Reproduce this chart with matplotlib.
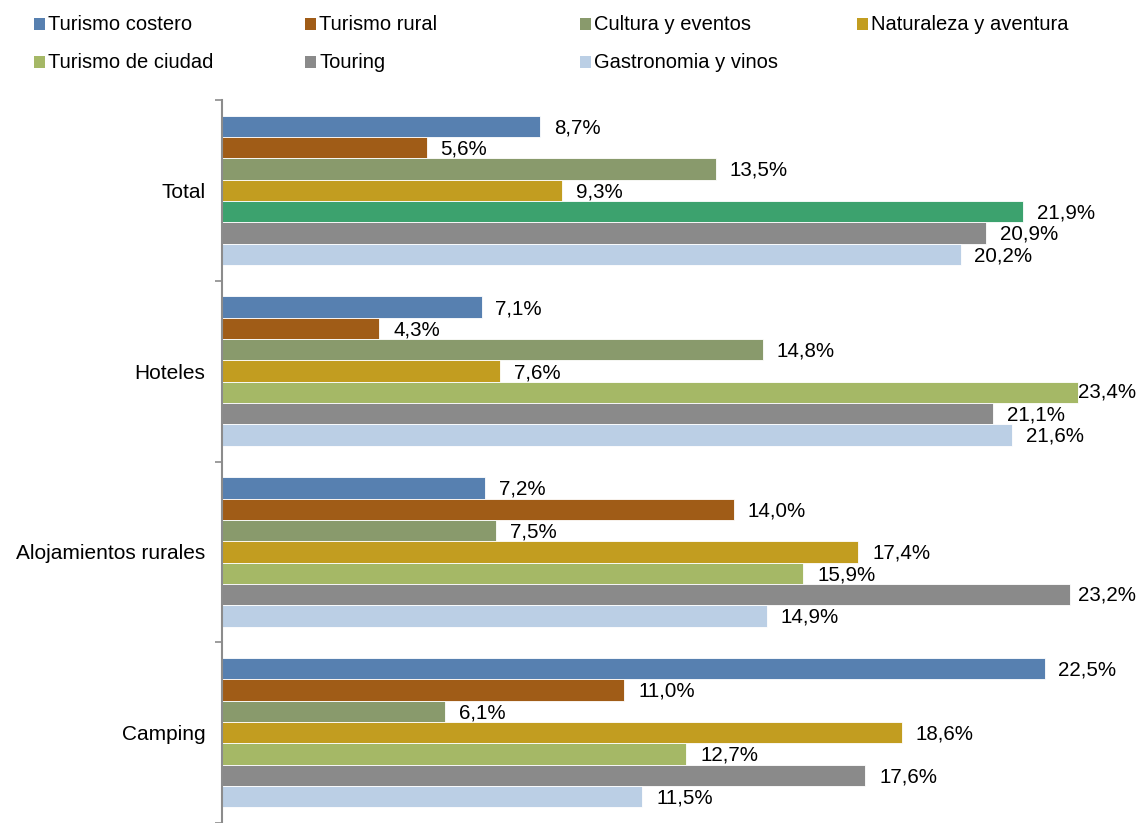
import numpy as np
import matplotlib.pyplot as plt
import matplotlib.transforms as mtransforms
from matplotlib.patches import Rectangle

plt.rcParams['font.family'] = ['Liberation Sans', 'DejaVu Sans']

categories = ["Total", "Hoteles", "Alojamientos rurales", "Camping"]
series = ["Turismo costero", "Turismo rural", "Cultura y eventos", "Naturaleza y aventura",
          "Turismo de ciudad", "Touring", "Gastronomia y vinos"]

costero = [8.7, 7.1, 7.2, 22.5]
rural = [5.6, 4.3, 14.0, 11.0]
cultura = [13.5, 14.8, 7.5, 6.1]
naturaleza = [9.3, 7.6, 17.4, 18.6]
ciudad = [21.9, 23.4, 15.9, 12.7]
touring = [20.9, 21.1, 23.2, 17.6]
gastronomia = [20.2, 21.6, 14.9, 11.5]

colors = ["#5780B0", "#A05C17", "#899A6C", "#C29D20", "#A5B866", "#8A8A8A", "#BBCFE5"]
total_ciudad_color = "#3CA26E"

values = [costero, rural, cultura, naturaleza, ciudad, touring, gastronomia]

W, H = 1136, 823
fig = plt.figure(figsize=(W / 100, H / 100), dpi=100)
ax = fig.add_axes([222 / W, 0.0, 1 - 222 / W, 1 - 100 / H])
edge_tr = mtransforms.blended_transform_factory(ax.transAxes, ax.transData)

n = len(series)
bar_h = 0.118
for j, (name, vals) in enumerate(zip(series, values)):
    ypos = np.arange(len(categories)) + (j - (n - 1) / 2) * bar_h
    cols = [colors[j]] * len(categories)
    if name == "Turismo de ciudad":
        cols[0] = total_ciudad_color
    bars = ax.barh(ypos, vals, height=bar_h, color=cols, edgecolor='white', linewidth=0.6)
    for b, v in zip(bars, vals):
        txt = f"{v:.1f}%".replace(".", ",")
        yc = b.get_y() + b.get_height() / 2
        if v > 23:
            # too close to the right edge: pin the label against it
            ax.text(1.0, yc, txt, transform=edge_tr, va='center', ha='right',
                    fontsize=14.8, clip_on=False)
        else:
            ax.annotate(txt, (b.get_width(), yc), xytext=(10, -1),
                        textcoords='offset points', va='center', ha='left', fontsize=14.8)

ax.set_xlim(0, 25)
ax.set_ylim(len(categories) - 0.5, -0.5)
ax.set_yticks(np.arange(len(categories)))
ax.set_yticklabels(categories, fontsize=15)
ax.set_yticks(np.arange(len(categories) + 1) - 0.5, minor=True)
ax.tick_params(axis='y', which='major', length=0, pad=12)
ax.tick_params(axis='y', which='minor', length=5, color='#8C8C8C', width=1.2)
ax.set_xticks([])
for s in ['top', 'right', 'bottom']:
    ax.spines[s].set_visible(False)
ax.spines['left'].set_color('#8C8C8C')
ax.spines['left'].set_linewidth(1.5)

# legend laid out row by row, four entries per row
col_x = [39, 310, 585, 862]
row_y = [24, 62]
for i, (name, c) in enumerate(zip(series, colors)):
    x0 = col_x[i % 4]
    y0 = row_y[i // 4]
    fig.patches.append(Rectangle(((x0 - 5.5) / W, 1 - (y0 + 5.5) / H), 11 / W, 11 / H,
                                 facecolor=c, edgecolor='none', transform=fig.transFigure))
    fig.text((x0 + 9) / W, 1 - y0 / H, name, fontsize=14.5, va='center', ha='left')

fig.savefig("out.png", dpi=100)
